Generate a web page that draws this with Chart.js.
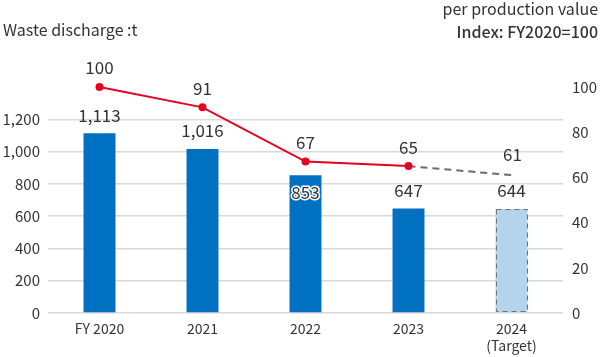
<!DOCTYPE html>
<html>
<head>
<meta charset="utf-8">
<script src="https://cdn.jsdelivr.net/npm/chart.js@4.4.1/dist/chart.umd.min.js"></script>
<style>
html,body{margin:0;padding:0;background:#fff;}
#wrap{width:600px;height:357px;position:relative;}
</style>
</head>
<body>
<div id="wrap"><canvas id="c" width="600" height="357"></canvas></div>
<script>
const categories = [['FY 2020'], ['2021'], ['2022'], ['2023'], ['2024', '(Target)']];
const wasteValues = [1113, 1016, 853, 647, 644];
const indexValues = [100, 91, 67, 65, 61];
const leftTicks = [0, 200, 400, 600, 800, 1000, 1200];
const rightTicks = [0, 20, 40, 60, 80, 100];
const leftTitle = 'Waste discharge :t';
const rightTitle1 = 'per production value';
const rightTitle2 = 'Index: FY2020=100';

const FONT = '"Noto Sans CJK JP", "Noto Sans", sans-serif';
const TXT = '#333333';
const BLUE = '#0070C0';
const LIGHT = '#B4D4EE';
const RED = '#E60021';
const GRAY = '#6b6b6b';

const fmt = v => v.toLocaleString('en-US');

const overlay = {
  id: 'overlay',
  afterDatasetsDraw(chart) {
    const ctx = chart.ctx;
    const barMeta = chart.getDatasetMeta(1);
    const lineMeta = chart.getDatasetMeta(0);
    const tb = barMeta.data[4];
    if (tb) {
      const w = tb.width;
      ctx.save();
      ctx.strokeStyle = '#6f6f6f';
      ctx.lineWidth = 1;
      ctx.setLineDash([5, 4]);
      ctx.strokeRect(Math.round(tb.x - w / 2) + 0.5, Math.round(tb.y) + 0.5, Math.round(w) - 1, Math.round(tb.base - tb.y) - 1);
      ctx.restore();
    }
    ctx.save();
    ctx.font = '17px ' + FONT;
    ctx.textAlign = 'center';
    ctx.textBaseline = 'middle';
    barMeta.data.forEach((el, i) => {
      const v = wasteValues[i];
      if (i === 2) {
        ctx.lineJoin = 'round';
        ctx.lineWidth = 3;
        ctx.strokeStyle = '#ffffff';
        ctx.strokeText(fmt(v), el.x, el.y + 17);
        ctx.fillStyle = TXT;
        ctx.fillText(fmt(v), el.x, el.y + 17);
      } else {
        ctx.fillStyle = TXT;
        ctx.fillText(fmt(v), el.x, el.y - 18);
      }
    });
    lineMeta.data.forEach((el, i) => {
      ctx.fillStyle = TXT;
      const dx = i === 4 ? 1 : 0;
      const dy = i === 4 ? -21 : -19;
      ctx.fillText(String(indexValues[i]), el.x + dx, el.y + dy);
    });
    ctx.restore();
  },
  afterDraw(chart) {
    const ctx = chart.ctx;
    ctx.save();
    ctx.fillStyle = TXT;
    ctx.textBaseline = 'middle';
    ctx.font = '16px ' + FONT;
    ctx.textAlign = 'left';
    ctx.fillText(leftTitle, 3, 30);
    ctx.textAlign = 'right';
    ctx.fillText(rightTitle1, 598, 9);
    ctx.font = '500 16px ' + FONT;
    ctx.fillText(rightTitle2, 598, 32);
    ctx.restore();
  }
};

new Chart(document.getElementById('c'), {
  data: {
    labels: categories,
    datasets: [
      {
        type: 'line',
        data: indexValues,
        yAxisID: 'y1',
        clip: false,
        borderColor: RED,
        borderWidth: 2,
        pointBackgroundColor: RED,
        pointBorderColor: RED,
        pointRadius: [3, 3, 3, 3, 0],
        pointHoverRadius: 0,
        tension: 0,
        order: 0,
        segment: {
          borderColor: c => c.p1DataIndex === 4 ? GRAY : RED,
          borderDash: c => c.p1DataIndex === 4 ? [7, 5] : undefined
        }
      },
      {
        type: 'bar',
        data: wasteValues,
        yAxisID: 'y',
        backgroundColor: [BLUE, BLUE, BLUE, BLUE, LIGHT],
        borderWidth: 0,
        categoryPercentage: 1,
        barPercentage: 0.31,
        order: 1
      }
    ]
  },
  options: {
    responsive: false,
    animation: false,
    events: [],
    layout: { padding: { top: 87, left: 0, right: 0, bottom: 0 } },
    plugins: { legend: { display: false }, tooltip: { enabled: false } },
    scales: {
      x: {
        grid: { display: false, drawTicks: false },
        border: { display: false },
        ticks: { color: TXT, font: { family: FONT, size: 14 }, padding: 7, maxRotation: 0 },
        afterFit: s => { s.height = 44; }
      },
      y: {
        position: 'left',
        min: 0, max: 1400,
        afterBuildTicks: s => { s.ticks = leftTicks.concat([1400]).map(v => ({ value: v })); },
        grid: {
          drawTicks: false,
          color: c => c.tick && c.tick.value === 1400 ? 'rgba(0,0,0,0)' : '#d9d9d9',
          lineWidth: 1.5
        },
        border: { display: false },
        ticks: {
          color: TXT, font: { family: FONT, size: 15 }, padding: 8,
          callback: v => v === 1400 ? '' : fmt(v)
        },
        afterFit: s => { s.width = 48; }
      },
      y1: {
        position: 'right',
        min: 0, max: 100,
        afterBuildTicks: s => { s.ticks = rightTicks.map(v => ({ value: v })); },
        grid: { display: false, drawTicks: false },
        border: { display: false },
        ticks: { color: TXT, font: { family: FONT, size: 15 }, padding: 9 },
        afterFit: s => { s.width = 37; }
      }
    }
  },
  plugins: [overlay]
});
</script>
</body>
</html>
